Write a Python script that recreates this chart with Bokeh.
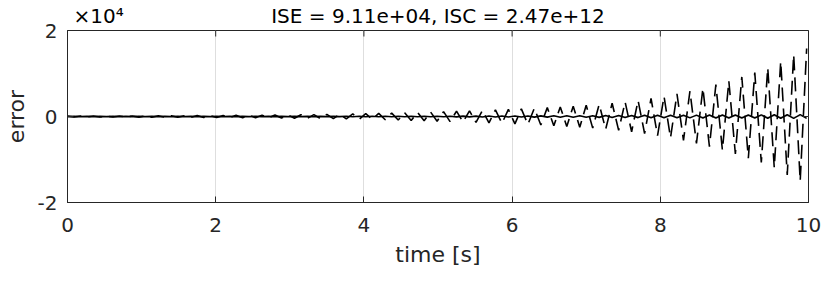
import math
from bokeh.plotting import figure
from bokeh.layouts import column
from bokeh.models import Range1d, FixedTicker, Label, LinearAxis
from bokeh.embed import file_html
from bokeh.resources import INLINE

# ---- data ----
time_s = [
    0.000, 0.088, 0.175, 0.263, 0.350, 0.438, 0.525, 0.613, 0.700, 0.788,
    0.875, 0.963, 1.050, 1.138, 1.225, 1.313, 1.400, 1.488, 1.575, 1.663,
    1.750, 1.838, 1.925, 2.013, 2.100, 2.188, 2.275, 2.363, 2.450, 2.538,
    2.625, 2.713, 2.800, 2.888, 2.975, 3.063, 3.150, 3.238, 3.325, 3.413,
    3.500, 3.588, 3.675, 3.763, 3.850, 3.938, 4.025, 4.113, 4.200, 4.288,
    4.375, 4.463, 4.550, 4.638, 4.725, 4.813, 4.900, 4.988, 5.075, 5.163,
    5.250, 5.338, 5.425, 5.513, 5.600, 5.688, 5.775, 5.863, 5.950, 6.038,
    6.125, 6.213, 6.300, 6.388, 6.475, 6.563, 6.650, 6.738, 6.825, 6.913,
    7.000, 7.088, 7.175, 7.263, 7.350, 7.438, 7.525, 7.613, 7.700, 7.788,
    7.875, 7.963, 8.050, 8.138, 8.225, 8.313, 8.400, 8.488, 8.575, 8.663,
    8.750, 8.838, 8.925, 9.013, 9.100, 9.188, 9.275, 9.363, 9.450, 9.538,
    9.625, 9.713, 9.800, 9.888, 9.975,
]

error_dashed = [
    100, -110, 100, -120, 110, -120, 120, -130, 120, -140,
    130, -150, 150, -160, 160, -170, 180, -190, 190, -200,
    210, -220, 230, -240, 250, -260, 270, -280, 290, -300,
    320, -330, 350, -360, 380, -400, 420, -430, 450, -470,
    490, -510, 540, -560, 590, -620, 650, -680, 720, -750,
    790, -830, 870, -910, 950, -1000, 1040, -1090, 1140, -1180,
    1230, -1280, 1330, -1380, 1430, -1480, 1540, -1600, 1660, -1720,
    1780, -1850, 1920, -1990, 2060, -2140, 2220, -2300, 2400, -2500,
    2600, -2700, 2820, -2950, 3080, -3220, 3380, -3550, 3750, -3950,
    4200, -4450, 4700, -4950, 5250, -5550, 5900, -6250, 6600, -7000,
    7400, -7800, 8250, -8700, 9200, -9700, 10200, -10700, 11300, -11900,
    12800, -13600, 14400, -15000, 15800,
]

error_solid = [
    -20, 20, -20, 20, -20, 20, -20, 20, -20, 20,
    -20, 20, -20, 20, -20, 20, -20, 20, -20, 20,
    -30, 30, -30, 30, -30, 30, -30, 30, -30, 30,
    -30, 30, -30, 30, -30, 30, -30, 30, -30, 30,
    -40, 40, -40, 45, -45, 50, -50, 55, -55, 60,
    -60, 60, -65, 65, -65, 70, -70, 70, -75, 75,
    -80, 85, -90, 95, -100, 105, -110, 115, -120, 125,
    -130, 135, -140, 145, -150, 155, -160, 165, -170, 175,
    -180, 190, -200, 210, -220, 230, -240, 250, -260, 270,
    -280, 290, -300, 300, -310, 310, -320, 320, -330, 330,
    -340, 340, -350, 350, -360, 360, -370, 380, -390, 400,
    -410, 420, -430, 440, -450,
]

x_ticks = [0, 2, 4, 6, 8, 10]
y_ticks = [-20000, 0, 20000]
y_tick_labels = {-20000: "-2", 0: "0", 20000: "2"}
x_min, x_max = 0, 10
y_min, y_max = -20000, 20000
title_text = "ISE = 9.11e+04, ISC = 2.47e+12"
exponent_text = "\u00d710\u2074"
x_label = "time [s]"
y_label = "error"

FONT = "DejaVu Sans"
TXT = "#262626"
W = 822
LEFT = 58
MAIN_H, FOOT_H = 242, 23

# header texts are set as labels of a top axis (drawn above the frame)
title_x = (x_min + x_max) / 2
expo_x = 0.42

# ---- main plot ----
p = figure(width=W, height=MAIN_H, output_backend="svg", toolbar_location=None,
           x_range=Range1d(x_min, x_max), y_range=Range1d(y_min, y_max),
           min_border_left=LEFT, min_border_right=6, min_border_top=26,
           min_border_bottom=40)
p.background_fill_color = "white"
p.border_fill_color = "white"
p.outline_line_color = TXT
p.outline_line_width = 1

p.line(time_s, error_dashed, line_color="black", line_width=1.6,
       line_dash="14 7")
p.line(time_s, error_solid, line_color="black", line_width=1.6)

# box ticks on the top and right edges (half of each dash is clipped away)
p.scatter(x=x_ticks, y=[y_max] * len(x_ticks), marker="dash", size=12,
          angle=math.pi / 2, line_color=TXT, line_width=1)
p.scatter(x=[x_max] * len(y_ticks), y=y_ticks, marker="dash", size=12,
          line_color=TXT, line_width=1)

p.xaxis.ticker = FixedTicker(ticks=x_ticks)
p.yaxis.ticker = FixedTicker(ticks=y_ticks)
p.yaxis.major_label_overrides = y_tick_labels
for ax in (p.xaxis[0], p.yaxis[0]):
    ax.major_tick_in = 6
    ax.major_tick_out = 0
    ax.minor_tick_line_color = None
    ax.axis_line_color = TXT
    ax.major_tick_line_color = TXT
    ax.major_label_text_font = FONT
    ax.major_label_text_font_size = "20px"
    ax.major_label_text_color = TXT
    ax.axis_label_text_font = FONT
    ax.axis_label_text_font_size = "22px"
    ax.axis_label_text_font_style = "normal"
    ax.axis_label_text_color = TXT
p.yaxis.axis_label = y_label
p.xaxis.major_label_standoff = 15
p.yaxis.major_label_standoff = 10
p.yaxis.axis_label_standoff = 6

head_ax = LinearAxis(ticker=FixedTicker(ticks=[expo_x, title_x]),
                     major_label_overrides={expo_x: exponent_text,
                                            title_x: title_text},
                     axis_line_color=None, major_tick_line_color=None,
                     minor_tick_line_color=None, major_tick_in=0,
                     major_tick_out=0, major_label_standoff=3,
                     major_label_text_font=FONT,
                     major_label_text_font_size="20px",
                     major_label_text_color="black")
p.add_layout(head_ax, "above")

p.xgrid.ticker = FixedTicker(ticks=x_ticks)
p.ygrid.ticker = FixedTicker(ticks=y_ticks)
p.xgrid.grid_line_color = "#dedede"
p.ygrid.grid_line_color = "#dedede"

# ---- footer strip: x-axis title ----
foot = figure(width=W, height=FOOT_H, output_backend="svg",
              toolbar_location=None,
              x_range=Range1d(x_min, x_max), y_range=Range1d(0, FOOT_H),
              x_axis_location=None, y_axis_location=None,
              min_border_left=LEFT, min_border_right=14,
              min_border_top=0, min_border_bottom=0)
foot.outline_line_color = None
foot.xgrid.visible = False
foot.ygrid.visible = False
foot.add_layout(Label(x=(x_min + x_max) / 2, y=FOOT_H / 2, text=x_label,
                      text_align="center", text_baseline="middle",
                      text_font=FONT, text_font_size="22px", text_color=TXT))

open("out.html", "w").write(file_html(column(p, foot, spacing=0), INLINE))
